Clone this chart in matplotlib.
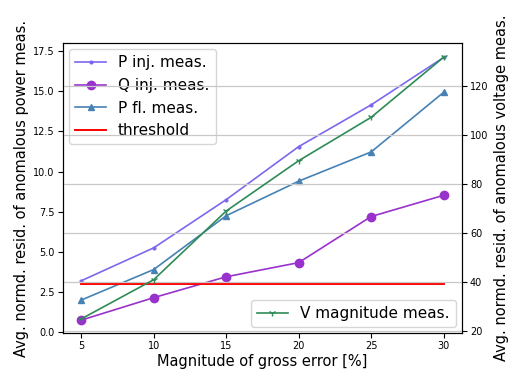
import matplotlib
matplotlib.use("Agg")
import matplotlib.pyplot as plt
from matplotlib.ticker import MultipleLocator, FormatStrFormatter

x = [5, 10, 15, 20, 25, 30]
p_inj = [3.2, 5.25, 8.25, 11.55, 14.15, 17.1]
q_inj = [0.75, 2.15, 3.45, 4.33, 7.2, 8.52]
p_fl = [2.0, 3.9, 7.25, 9.4, 11.22, 14.93]
threshold = [3.0] * len(x)
v_mag = [25.0, 41.0, 69.0, 89.5, 107.2, 131.7]

fig, ax1 = plt.subplots(figsize=(5.13, 3.71), dpi=100)
fig.subplots_adjust(left=0.123, right=0.9, top=0.884, bottom=0.102)

ax1.plot(x, p_inj, color="#7b68ee", marker=".", markersize=4, lw=1.2, label="P inj. meas.")
ax1.plot(x, q_inj, color="#9932cc", marker="o", markersize=6, lw=1.2, label="Q inj. meas.")
ax1.plot(x, p_fl, color="#4682b4", marker="^", markersize=5, lw=1.2, label="P fl. meas.")
ax1.plot(x, threshold, color="red", lw=1.4, label="threshold")
ax1.set_xlabel("Magnitude of gross error [%]", fontsize=10.5, labelpad=2)
ax1.set_ylabel("Avg. normd. resid. of anomalous power meas.", fontsize=10.5, labelpad=3)
ax1.set_xticks(x)
ax1.set_ylim(-0.06, 18.0)
ax1.yaxis.set_major_locator(MultipleLocator(2.5))
ax1.yaxis.set_major_formatter(FormatStrFormatter("%.1f"))
ax1.tick_params(labelsize=7, pad=2.5)
ax1.legend(loc="upper left", fontsize=11, borderaxespad=0.4)

ax2 = ax1.twinx()
ax2.plot(x, v_mag, color="#2e8b57", marker="1", markersize=5, lw=1.2, label="V magnitude meas.")
ax2.set_ylabel("Avg. normd. resid. of anomalous voltage meas.", fontsize=10.5, labelpad=4)
ax2.set_ylim(19.2, 137.5)
ax2.yaxis.set_major_locator(MultipleLocator(20))
ax2.tick_params(labelsize=7, pad=2.5)
ax2.grid(True, axis="y", color="#c8c8c8", lw=0.9)
ax2.legend(loc="lower right", fontsize=11, borderaxespad=0.4)

fig.savefig("out.png", dpi=100)
